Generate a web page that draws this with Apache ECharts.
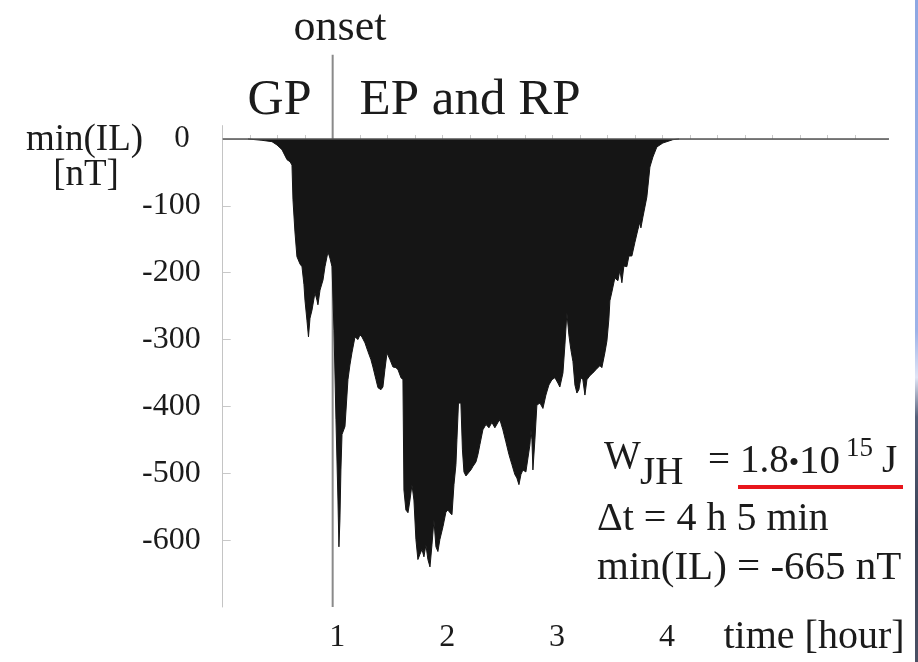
<!DOCTYPE html>
<html>
<head>
<meta charset="utf-8">
<script src="https://cdn.jsdelivr.net/npm/echarts@6/dist/echarts.min.js"></script>
<style>
  html, body { margin: 0; padding: 0; background: #fff; }
  #chart { width: 918px; height: 662px; position: relative; }
  #edge { position: absolute; right: 0; top: 0; width: 3px; height: 662px;
    background: linear-gradient(to bottom, #8ea7e2 0%, #9db3e8 50%, #dfe5f6 57%, #55607a 63%, #3b4256 80%, #4a5064 100%); }
</style>
</head>
<body>
<div id="chart"></div>
<div id="edge"></div>
<script>
// time in hours, min(IL) in nT (lower envelope of the filled profile)
const timeHours = [
  0.230, 0.357, 0.448, 0.494, 0.539, 0.585, 0.612, 0.630, 0.639, 0.657,
  0.675, 0.703, 0.721, 0.739, 0.748, 0.766, 0.780, 0.794, 0.812, 0.839,
  0.857, 0.866, 0.885, 0.912, 0.930, 0.957, 0.975, 0.994, 1.012, 1.030,
  1.048, 1.057, 1.066, 1.075, 1.085, 1.112, 1.139, 1.157, 1.175, 1.203,
  1.230, 1.248, 1.266, 1.294, 1.321, 1.348, 1.366, 1.394, 1.412, 1.439,
  1.457, 1.475, 1.494, 1.521, 1.548, 1.575, 1.594, 1.621, 1.639, 1.648,
  1.666, 1.685, 1.703, 1.721, 1.739, 1.757, 1.775, 1.794, 1.812, 1.830,
  1.848, 1.866, 1.885, 1.903, 1.921, 1.939, 1.957, 1.975, 2.003, 2.030,
  2.048, 2.066, 2.085, 2.103, 2.121, 2.130, 2.144, 2.166, 2.180, 2.194,
  2.212, 2.230, 2.257, 2.275, 2.303, 2.321, 2.339, 2.366, 2.394, 2.421,
  2.448, 2.475, 2.503, 2.521, 2.548, 2.575, 2.603, 2.630, 2.657, 2.675,
  2.694, 2.712, 2.730, 2.757, 2.775, 2.794, 2.803, 2.812, 2.821, 2.839,
  2.857, 2.885, 2.912, 2.939, 2.966, 2.994, 3.021, 3.048, 3.066, 3.094,
  3.112, 3.130, 3.148, 3.166, 3.185, 3.203, 3.221, 3.239, 3.257, 3.275,
  3.294, 3.312, 3.339, 3.366, 3.394, 3.430, 3.448, 3.475, 3.494, 3.512,
  3.521, 3.539, 3.566, 3.594, 3.612, 3.630, 3.648, 3.675, 3.694, 3.721,
  3.748, 3.775, 3.794, 3.803, 3.821, 3.839, 3.857, 3.885, 3.912, 3.948,
  4.003, 4.094, 4.150
];
const minIL = [
  0, -2, -4, -9, -16, -31, -34, -39, -91, -139,
  -176, -187, -191, -218, -241, -271, -296, -268, -256, -230,
  -241, -248, -226, -211, -191, -169, -178, -191, -286, -420,
  -540, -610, -570, -495, -442, -430, -360, -338, -320, -296,
  -300, -293, -296, -305, -318, -330, -341, -360, -372, -375,
  -371, -345, -320, -330, -341, -342, -345, -357, -360, -525,
  -555, -559, -540, -517, -540, -599, -629, -621, -614, -625,
  -607, -629, -640, -607, -570, -610, -617, -599, -580, -558,
  -555, -559, -562, -517, -487, -450, -395, -395, -465, -498,
  -504, -505, -495, -490, -483, -472, -457, -435, -427, -432,
  -424, -432, -424, -420, -435, -453, -472, -487, -502, -507,
  -517, -502, -495, -498, -499, -457, -435, -450, -495, -450,
  -398, -395, -403, -383, -368, -360, -357, -365, -371, -350,
  -308, -260, -293, -315, -333, -368, -380, -375, -357, -360,
  -383, -360, -354, -350, -345, -339, -342, -320, -302, -269,
  -242, -229, -208, -212, -196, -215, -190, -191, -175, -175,
  -155, -136, -124, -133, -117, -102, -87, -42, -27, -12,
  -6, -1, 0
];
const yTickLabels = [0, -100, -200, -300, -400, -500, -600];
const xTickLabels = [1, 2, 3, 4];
const xMinorTicks = [0.25, 0.5, 0.75, 1, 1.25, 1.5, 1.75, 2, 2.25, 2.5, 2.75, 3, 3.25, 3.5, 3.75, 4, 4.25, 4.5, 4.75, 5, 5.25, 5.5, 5.75];
const onsetTime = 1;
const onsetSpan = [-700, 126];
const zeroLineSpan = [0, 6.19];

const SERIF = '"Liberation Serif", "Times New Roman", serif';
const INK = '#1b1b1b';

const chart = echarts.init(document.getElementById('chart'), null, { renderer: 'canvas' });

function txt(text, x, y, size, align) {
  return {
    type: 'text', x: x, y: y, z: 100,
    style: { text: text, font: 'normal ' + size + 'px ' + SERIF, fill: INK,
      textAlign: align || 'left', textVerticalAlign: 'middle' }
  };
}

const option = {
  animation: false,
  backgroundColor: '#ffffff',
  grid: { left: 222.7, right: 30, top: 125.6, bottom: 55, outerBoundsMode: 'none', containLabel: false },
  xAxis: {
    type: 'value', min: 0, max: 6.05,
    axisLine: { show: true, lineStyle: { color: '#c8c8c8', width: 1 } },
    axisTick: { show: true, inside: true, length: 4, customValues: xMinorTicks, lineStyle: { color: '#c8c8c8' } },
    axisLabel: { customValues: xTickLabels, margin: 15, padding: [0, 0, 0, 9],
      fontFamily: SERIF, fontSize: 32, color: INK },
    splitLine: { show: false }
  },
  yAxis: {
    type: 'value', min: -700, max: 20,
    axisLine: { show: true, onZero: false, lineStyle: { color: '#c4c4c4', width: 1 } },
    axisTick: { show: true, inside: true, length: 8, customValues: yTickLabels, lineStyle: { color: '#c8c8c8' } },
    axisLabel: {
      customValues: yTickLabels, margin: 22,
      fontFamily: SERIF, fontSize: 32, color: INK,
      formatter: function (v) { return v === 0 ? '{z|0}' : String(v); },
      rich: { z: { fontFamily: SERIF, fontSize: 31, color: INK, padding: [0, 11, 0, 0] } }
    },
    splitLine: { show: false }
  },
  series: [
    {
      name: 'onset', type: 'line', clip: false, z: 1, silent: true,
      data: onsetSpan.map(function (v) { return [onsetTime, v]; }),
      showSymbol: false, symbol: 'none',
      lineStyle: { color: '#8a8a8a', width: 2 }
    },
    {
      name: 'min(IL)', type: 'line', z: 2, silent: true,
      data: timeHours.map(function (t, i) { return [t, minIL[i]]; }),
      showSymbol: false, symbol: 'none',
      lineStyle: { color: '#151515', width: 1 },
      areaStyle: { color: '#151515', opacity: 1 }
    },
    {
      name: 'zero', type: 'line', clip: false, z: 3, silent: true,
      data: zeroLineSpan.map(function (t) { return [t, 0]; }),
      showSymbol: false, symbol: 'none',
      lineStyle: { color: '#555555', width: 1.5 }
    }
  ],
  graphic: [
    txt('onset', 340, 28, 44, 'center'),
    txt('GP', 279.5, 101, 50, 'center'),
    txt('EP and RP', 470, 101, 51, 'center'),
    txt('min(IL)', 84.5, 140, 37, 'center'),
    txt('[nT]', 86, 175, 37, 'center'),
    txt('time [hour]', 814, 637, 40, 'center'),
    txt('W', 604, 458, 39, 'left'),
    txt('JH', 640, 474, 39, 'left'),
    txt('=', 708, 462, 39, 'left'),
    txt('1.8', 740, 462, 39, 'left'),
    txt('•', 794, 464, 30, 'center'),
    txt('10', 799, 462, 41, 'left'),
    txt('15', 846, 449, 27, 'left'),
    txt('J', 882, 462, 39, 'left'),
    txt('Δt = 4 h 5 min', 597, 519, 40, 'left'),
    txt('min(IL) = -665 nT', 597, 568, 41, 'left'),
    { type: 'rect', z: 100, shape: { x: 738, y: 485, width: 165, height: 4 }, style: { fill: '#e8161c' } }
  ]
};
chart.setOption(option);
</script>
</body>
</html>
